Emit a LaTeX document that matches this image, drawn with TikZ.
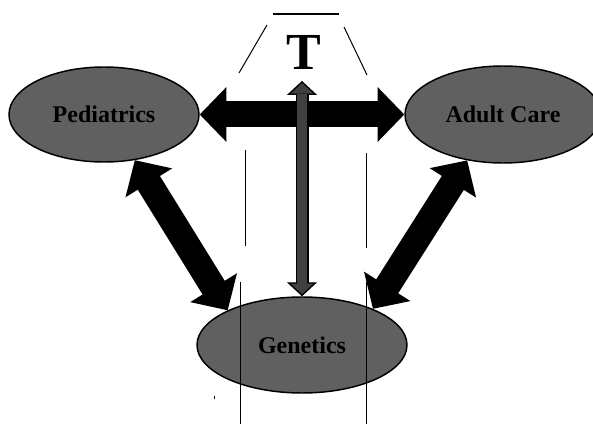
\documentclass[tikz,border=0pt]{standalone}
\usepackage{fontspec}
\setmainfont{Liberation Serif}
\usetikzlibrary{arrows.meta}
\usetikzlibrary{shapes.geometric}

\definecolor{elgray}{RGB}{96,96,96}
\definecolor{arrgray}{RGB}{64,64,64}

\begin{document}
\begin{tikzpicture}[x=0.75pt,y=-0.75pt,
	area/.style={ellipse, draw, line width=1.1pt, fill=elgray, inner sep=0pt,
		font=\bfseries\fontsize{18}{20}\selectfont},
	bigarrow/.style={line width=19.5pt,
		{Triangle[length=20pt,width=40pt]}-{Triangle[length=20pt,width=40pt]}},
	guide/.style={line width=0.75pt}]
	\useasboundingbox (0,0) rectangle (593,445);

	% areas
	\node[area, minimum width=142.5pt, minimum height=71.25pt] (ped) at (104,114.5) {Pediatrics};
	\node[area, minimum width=147pt, minimum height=72.75pt] (adult) at (503,114.5) {Adult Care};
	\node[area, minimum width=157.5pt, minimum height=72pt] (gen) at (302,345) {Genetics};

	% letra T
	\node[inner sep=0pt, font=\bfseries\fontsize{39}{40}\selectfont] (T) at (304,52) {T};
	\coordinate (ttip) at (302,81);

	% setas pretas
	\draw[bigarrow] (ped.east) -- (adult.west);
	\draw[bigarrow] (ped.-56) -- (gen.155);
	\draw[bigarrow] (adult.-128) -- (gen.27);

	% seta cinza
	\draw[line width=9.75pt, {Triangle[length=10.5pt,width=22.5pt,line width=1pt,fill=arrgray]}-{Triangle[length=10.5pt,width=22.5pt,line width=1pt,fill=arrgray]}] (ttip) -- (gen.north);
	\draw[arrgray, line width=7.75pt, shorten <=9.5pt, shorten >=9.5pt] (ttip) -- (gen.north);

	% linhas finas
	\draw[line width=1.5pt] (273,14) -- (339,14);
	\draw[guide] (267,25) -- (239,73);
	\draw[guide] (344,27) -- (367,75);
	\draw[guide] (245,150) -- (245,246);
	\draw[guide] (366,153) -- (366,248);
	\draw[guide] (240,282) -- (240,424);
	\draw[guide] (366,282) -- (366,424);
	\draw[guide] (214,396) -- (214,399);
\end{tikzpicture}
\end{document}
